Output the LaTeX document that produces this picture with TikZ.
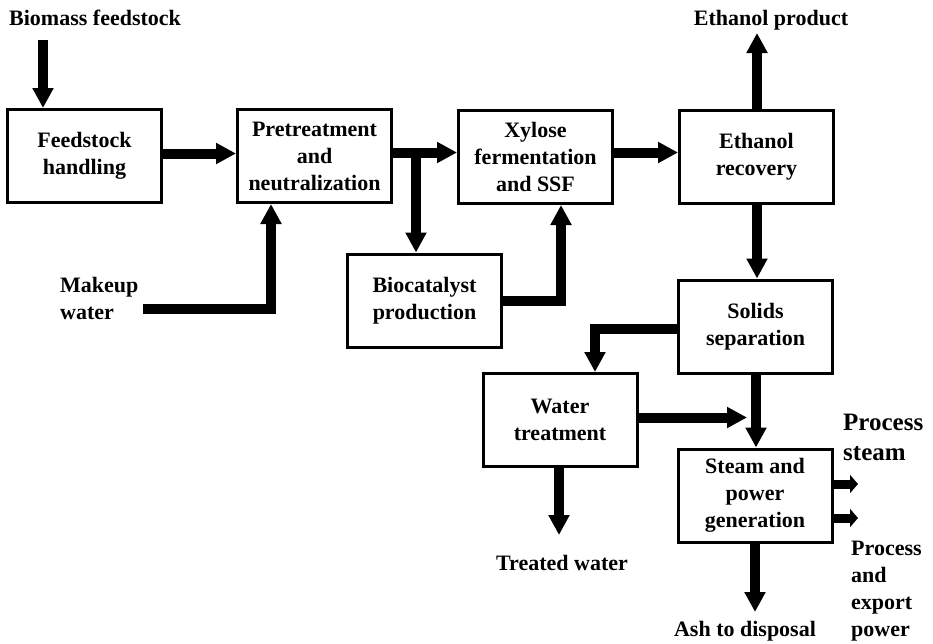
\documentclass[tikz,border=0pt]{standalone}
\usepackage{fontspec}
\setmainfont{Liberation Serif}
\usetikzlibrary{arrows.meta}
\begin{document}
\begin{tikzpicture}[x=1pt,y=-1pt,
  box/.style={draw,line width=3pt,minimum width=154pt,minimum height=93pt,align=center,inner sep=0pt,font=\bfseries\fontsize{22}{27}\selectfont},
  lbl/.style={inner sep=0pt,font=\bfseries\fontsize{22}{27}\selectfont},
  arr/.style={line width=10pt,line join=miter,-{Triangle[width=20pt,length=20pt]}},
  sarr/.style={line width=9pt,-{Triangle[width=18pt,length=8pt]}}]
\useasboundingbox (0,0) rectangle (933,643);

% boxes
\node[box] (feed) at (84.5,156)   {Feedstock\\handling};
\node[box] (pre)  at (314.5,156)  {Pretreatment\\and\\neutralization};
\node[box] (xyl)  at (535.5,157)  {Xylose\\fermentation\\and SSF};
\node[box] (eth)  at (756.5,156.5){Ethanol\\recovery};
\node[box] (bio)  at (424.5,300.5){Biocatalyst\\production};
\node[box] (sol)  at (755.5,326.5){Solids\\separation};
\node[box] (wat)  at (560,420)    {Water\\treatment};
\node[box] (stm)  at (755,495.5)  {Steam and\\power\\generation};

% labels
\node[lbl,anchor=base west] (lbm) at (9,25) {Biomass feedstock};
\node[lbl,anchor=base] (lep) at (771,25) {Ethanol product};
\node[lbl,anchor=west,align=left] (lmw) at (60,298) {Makeup\\water};
\node[lbl,anchor=base] (ltw) at (562,570) {Treated water};
\node[lbl,anchor=base] (lash) at (745,636) {Ash to disposal};
\node[inner sep=0pt,anchor=north west,align=left,font=\bfseries\fontsize{25}{30}\selectfont] (lps) at (843,414) {Process\\steam};
\node[lbl,anchor=north west,align=left] (lpp) at (851,541) {Process\\and\\export\\power};

% helper coordinates
\coordinate (bm) at (43,40);
\coordinate (y153) at (0,153.5);
\coordinate (y152) at (0,152.5);
\coordinate (mw) at (143,308.5);
\coordinate (xmk) at (271,0);
\coordinate (xbr) at (416,0);
\coordinate (y300) at (0,300.5);
\coordinate (x561) at (561,0);
\coordinate (ep) at (757,33);
\coordinate (x757) at (757,0);
\coordinate (y329) at (0,329);
\coordinate (x595) at (595,0);
\coordinate (y417) at (0,417.5);
\coordinate (wend) at (747,417.5);
\coordinate (x756) at (756,0);
\coordinate (y484) at (0,484);
\coordinate (y518) at (0,518);
\coordinate (psend) at (858,484);
\coordinate (ppend) at (858,518);
\coordinate (tw) at (559,535);
\coordinate (ash) at (755,612);

% connectors
\draw[arr] (bm) -- (bm |- feed.north);
\draw[arr] (feed.east |- y153) -- (pre.west |- y153);
\draw[arr] (mw) -| (xmk |- pre.south);
\draw[arr] (pre.east |- y152) -- (xyl.west |- y152);
\draw[arr] (xbr |- y152) -- (xbr |- bio.north);
\draw[arr] (bio.east |- y300) -| (x561 |- xyl.south);
\draw[arr] (xyl.east |- y152) -- (eth.west |- y152);
\draw[arr] (ep |- eth.north) -- (ep);
\draw[arr] (x757 |- eth.south) -- (x757 |- sol.north);
\draw[arr] (sol.west |- y329) -| (x595 |- wat.north);
\draw[arr] (wat.east |- y417) -- (wend);
\draw[arr] (x756 |- sol.south) -- (x756 |- stm.north);
\draw[sarr] (stm.east |- y484) -- (psend);
\draw[sarr] (stm.east |- y518) -- (ppend);
\draw[arr] (tw |- wat.south) -- (tw);
\draw[arr] (ash |- stm.south) -- (ash);
\end{tikzpicture}
\end{document}
